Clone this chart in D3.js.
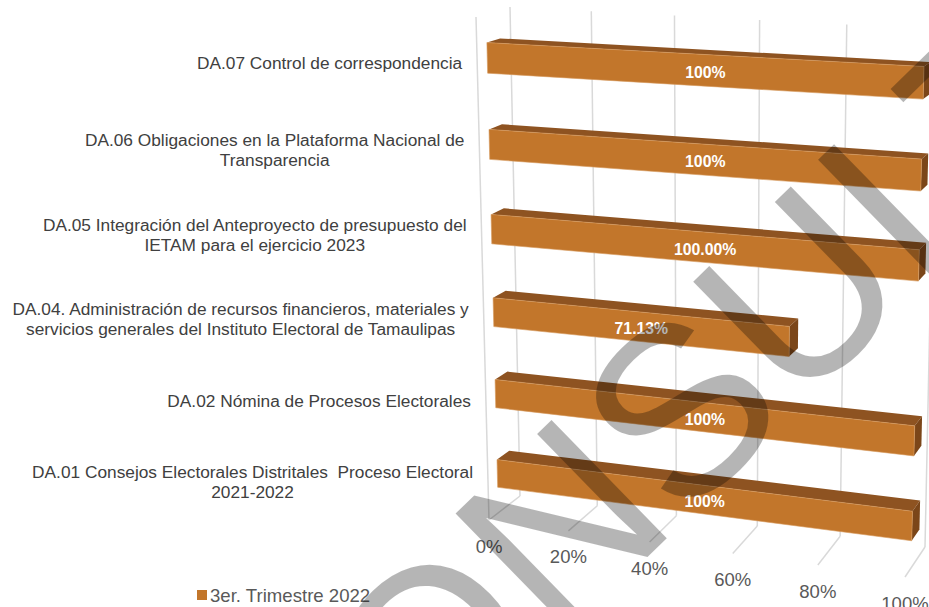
<!DOCTYPE html>
<html>
<head>
<meta charset="utf-8">
<script src="https://cdn.jsdelivr.net/npm/d3@7"></script>
<style>
  body { margin: 0; background: #fff; }
  svg { display: block; font-family: "Liberation Sans", Arial, sans-serif; }
</style>
</head>
<body>
<svg width="929" height="607"></svg>
<script>
// categories from bottom to top, each one split into its printed lines
const categories = [
  ["DA.01 Consejos Electorales Distritales  Proceso Electoral", "2021-2022"],
  ["DA.02 Nómina de Procesos Electorales"],
  ["DA.04. Administración de recursos financieros, materiales y", "servicios generales del Instituto Electoral de Tamaulipas"],
  ["DA.05 Integración del Anteproyecto de presupuesto del", "IETAM para el ejercicio 2023"],
  ["DA.06 Obligaciones en la Plataforma Nacional de", "Transparencia"],
  ["DA.07 Control de correspondencia"]
];
const values = [1, 1, 0.7113, 1, 1, 1];
const valueLabels = ["100%", "100%", "71.13%", "100.00%", "100%", "100%"];
const ticks = [0, 0.2, 0.4, 0.6, 0.8, 1];
const seriesName = "3er. Trimestre 2022";
const watermark = "CONSULTA";

const svg = d3.select("svg");
const keys = categories.map(c => c.join(" "));

// value and category scales work in unit space, the 3d box maps it to the screen
const x = d3.scaleLinear().domain([0, 1]).range([0, 1]);
const y = d3.scaleBand().domain(keys).range([0, 1]).paddingInner(0.65).paddingOuter(0.325);
const fmt = d3.format(".0%");

// corners of the plot box: front plane and back wall (bottom-left, bottom-right, top-left, top-right)
const box = {
  front: { bl: [489, 520], br: [905, 577], tl: [476, 17], tr: [920, 39] },
  back:  { bl: [520, 496], br: [925, 547], tl: [510, 7],  tr: [936, 29] }
};
const persp = s => t => t / (t + s * (1 - t));
const pv = persp(1.06), ph = persp(1.062);
const barDepth = [0.3, 0.69];

function bil(p, a, b) {
  const bx = p.bl[0] + (p.br[0] - p.bl[0]) * a, by = p.bl[1] + (p.br[1] - p.bl[1]) * a;
  const tx = p.tl[0] + (p.tr[0] - p.tl[0]) * a, ty = p.tl[1] + (p.tr[1] - p.tl[1]) * a;
  return [bx + (tx - bx) * b, by + (ty - by) * b];
}
function proj(v, h, d) {
  const a = pv(v), b = ph(h);
  const f = bil(box.front, a, b), k = bil(box.back, a, b);
  return [f[0] + (k[0] - f[0]) * d, f[1] + (k[1] - f[1]) * d];
}
const poly = pts => "M" + pts.map(p => p[0].toFixed(2) + "," + p[1].toFixed(2)).join("L") + "Z";

// walls and floor gridlines
const grid = svg.append("g").attr("stroke", "#D9D9D9").attr("stroke-width", 1.5).attr("fill", "none");
ticks.forEach(t => {
  const b0 = proj(x(t), 0, 1), b1 = proj(x(t), 1, 1), f0 = proj(x(t), 0, 0);
  grid.append("line").attr("x1", b0[0]).attr("y1", b0[1]).attr("x2", b1[0]).attr("y2", b1[1]);
  grid.append("line").attr("x1", b0[0]).attr("y1", b0[1]).attr("x2", f0[0]).attr("y2", f0[1]);
});
{
  const a = proj(0, 0, 0), b = proj(0, 1, 0);
  grid.append("line").attr("x1", a[0]).attr("y1", a[1]).attr("x2", b[0]).attr("y2", b[1]);
}

// bars
const rows = values.map((v, i) => ({ v, key: keys[i], label: valueLabels[i] }));
const bars = svg.append("g").selectAll("g").data(rows).join("g");
const [d0, d1] = barDepth;
const h0 = d => y(d.key), h1 = d => y(d.key) + y.bandwidth();

bars.append("path")
  .attr("fill", "#8E5321")
  .attr("d", d => poly([proj(0, h1(d), d0), proj(x(d.v), h1(d), d0), proj(x(d.v), h1(d), d1), proj(0, h1(d), d1)]));
bars.append("path")
  .attr("fill", "#7B4619")
  .attr("d", d => poly([proj(x(d.v), h0(d), d0), proj(x(d.v), h1(d), d0), proj(x(d.v), h1(d), d1), proj(x(d.v), h0(d), d1)]));
bars.append("path")
  .attr("fill", "#C2762B")
  .attr("stroke", "#D69A5E").attr("stroke-width", 0.6)
  .attr("d", d => poly([proj(0, h0(d), d0), proj(x(d.v), h0(d), d0), proj(x(d.v), h1(d), d0), proj(0, h1(d), d0)]));

// data labels in the middle of the front face
bars.append("text")
  .attr("transform", d => {
    const hc = y(d.key) + y.bandwidth() / 2;
    const l = proj(0, hc, d0), r = proj(x(d.v), hc, d0);
    return `translate(${(l[0] + r[0]) / 2},${(l[1] + r[1]) / 2 + 2})`;
  })
  .attr("text-anchor", "middle")
  .attr("dominant-baseline", "central")
  .attr("fill", "#fff")
  .attr("font-weight", "bold")
  .attr("font-size", 15.8)
  .text(d => d.label);

// category labels, right edge next to the side wall
const catG = svg.append("g").attr("fill", "#404040").attr("font-size", 17.3);
categories.forEach((lines, i) => {
  const hc = y(keys[i]) + y.bandwidth() / 2;
  const p = proj(0, hc, 0);
  const t = catG.append("text").attr("text-anchor", "middle").style("white-space", "pre");
  const spans = lines.map((s, j) => t.append("tspan").attr("dominant-baseline", "central")
    .attr("y", p[1] + 1.5 + (j - (lines.length - 1) / 2) * 20).text(s));
  const w = d3.max(spans, s => s.node().getComputedTextLength());
  spans.forEach(s => s.attr("x", p[0] - 15 - w / 2));
});

// value axis labels below the floor
svg.append("g").attr("fill", "#595959").attr("font-size", 18.5).attr("text-anchor", "middle")
  .selectAll("text").data(ticks).join("text")
  .attr("x", t => proj(x(t), 0, 0)[0])
  .attr("y", t => proj(x(t), 0, 0)[1] + 26)
  .attr("dominant-baseline", "central")
  .text(t => fmt(t));

// legend
const leg = svg.append("g").attr("transform", "translate(197,590)");
leg.append("rect").attr("width", 10).attr("height", 10).attr("fill", "#C2762B");
leg.append("text").attr("x", 13).attr("y", 5).attr("dominant-baseline", "central")
  .attr("fill", "#595959").attr("font-size", 18.6).text(seriesName);

// watermark over the chart
svg.append("text")
  .attr("transform", "translate(299,897) rotate(-44.3)")
  .attr("font-size", 240)
  .attr("fill", "#000").attr("fill-opacity", 0.29)
  .text(watermark);
</script>
</body>
</html>
